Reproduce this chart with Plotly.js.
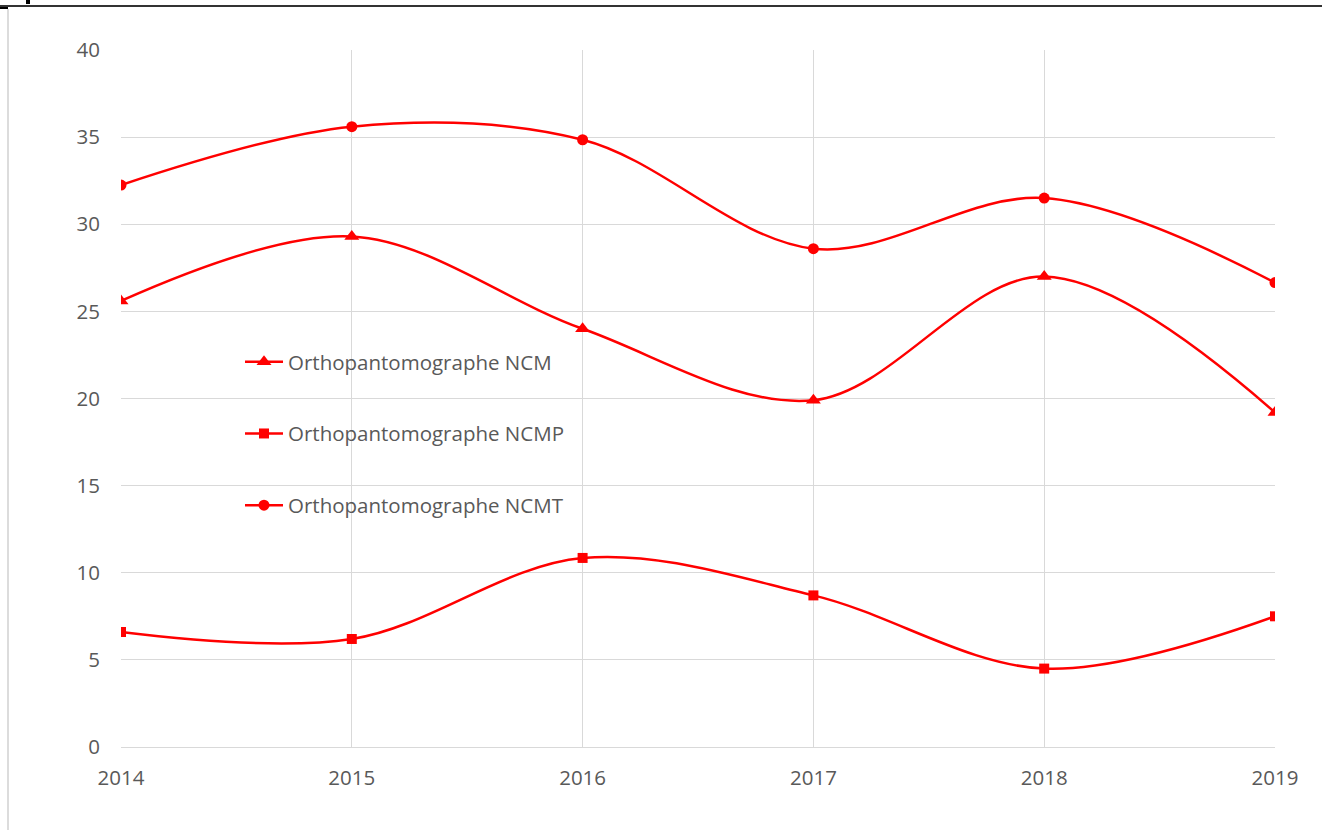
<!DOCTYPE html>
<html>
<head>
<meta charset="utf-8">
<script src="https://cdn.plot.ly/plotly-3.0.1.min.js"></script>
<style>html,body{margin:0;padding:0;background:#fff;}#chart{width:1322px;height:830px;}</style>
</head>
<body>
<div id="chart"></div>
<script>
const years = [2014, 2015, 2016, 2017, 2018, 2019];
const ncm  = [25.6, 29.3, 24.0, 19.9, 27.0, 19.2];
const ncmp = [6.6, 6.2, 10.85, 8.7, 4.5, 7.5];
const ncmt = [32.25, 35.6, 34.85, 28.6, 31.5, 26.65];
const seriesNames = ['Orthopantomographe NCM', 'Orthopantomographe NCMP', 'Orthopantomographe NCMT'];
const tickLabels = ['2014', '2015', '2016', '2017', '2018', '2019'];
const yTicks = [0, 5, 10, 15, 20, 25, 30, 35, 40];

const red = '#ff0000';
const font = '"Open Sans", "Liberation Sans", sans-serif';
function tr(y, name, symbol, size, g) {
  return {
    x: years, y: y, name: name, type: 'scatter', mode: 'lines+markers',
    legendgroup: g,
    line: {color: red, width: 2.5, shape: 'spline', smoothing: 1},
    marker: {color: red, symbol: symbol, size: size}
  };
}
const data = [
  tr(ncm, seriesNames[0], 'triangle-up', 13, 'a'),
  tr(ncmp, seriesNames[1], 'square', 10, 'b'),
  tr(ncmt, seriesNames[2], 'circle', 11, 'c')
];

const L = 121, R = 47, T = 50, B = 83, W = 1322, H = 830;
const pw = W - L - R, ph = H - T - B;
const px = v => (v - L) / pw;
const py = v => (H - B - v) / ph;

const layout = {
  width: W, height: H,
  margin: {l: L, r: R, t: T, b: B, pad: 0},
  paper_bgcolor: '#ffffff', plot_bgcolor: '#ffffff',
  font: {family: font, size: 20.5, color: '#595959'},
  showlegend: true,
  legend: {
    x: px(240), y: py(342), xanchor: 'left', yanchor: 'top',
    bgcolor: 'rgba(0,0,0,0)', borderwidth: 0,
    font: {family: font, size: 20.5, color: '#595959'},
    traceorder: 'grouped', tracegroupgap: 42, itemwidth: 38
  },
  xaxis: {
    range: [2014, 2019], tickvals: years, ticktext: tickLabels,
    showgrid: true, gridcolor: '#d9d9d9', gridwidth: 1,
    zeroline: false, showline: true, linecolor: '#d9d9d9', linewidth: 1,
    ticks: '', ticklabelstandoff: 12,
    tickfont: {family: font, size: 20.5, color: '#595959'}
  },
  yaxis: {
    range: [0, 40], tickvals: yTicks,
    showgrid: true, gridcolor: '#d9d9d9', gridwidth: 1,
    zeroline: false, showline: false,
    ticks: '', ticklabelstandoff: 20,
    tickfont: {family: font, size: 20.5, color: '#595959'}
  },
  shapes: [
    {type: 'line', xref: 'paper', yref: 'paper', x0: px(0), x1: px(1322), y0: py(6), y1: py(6), line: {color: '#333333', width: 2}},
    {type: 'line', xref: 'paper', yref: 'paper', x0: px(8), x1: px(8), y0: py(9), y1: py(830), line: {color: '#d0d0d0', width: 1.5}},
    {type: 'line', xref: 'paper', yref: 'paper', x0: px(0), x1: px(8), y0: py(8), y1: py(8), line: {color: '#000000', width: 2}},
    {type: 'rect', xref: 'paper', yref: 'paper', x0: px(26), x1: px(30), y0: py(0), y1: py(4), fillcolor: '#000000', line: {width: 0}}
  ]
};

Plotly.newPlot('chart', data, layout, {displayModeBar: false, staticPlot: true});
</script>
</body>
</html>
